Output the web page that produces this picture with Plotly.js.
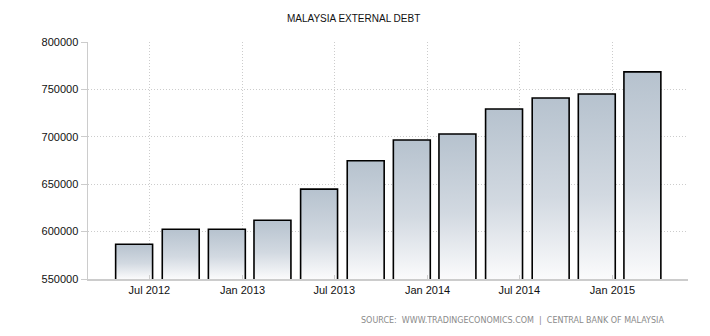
<!DOCTYPE html>
<html>
<head>
<meta charset="utf-8">
<script src="https://cdn.plot.ly/plotly-3.0.1.min.js"></script>
<style>
html,body{margin:0;padding:0;background:#fff;}
#chart{width:710px;height:336px;}
</style>
</head>
<body>
<div id="chart"></div>
<script>
const dates = ["2012-06-01","2012-09-01","2012-12-01","2013-03-01","2013-06-01","2013-09-01","2013-12-01","2014-03-01","2014-06-01","2014-09-01","2014-12-01","2015-03-01"];
const debt = [586700, 602500, 602400, 612000, 644800, 674700, 696600, 703000, 729400, 741000, 745200, 768500];
const tickVals = ["2012-07-01","2013-01-01","2013-07-01","2014-01-01","2014-07-01","2015-01-01"];
const tickText = ["Jul 2012","Jan 2013","Jul 2013","Jan 2014","Jul 2014","Jan 2015"];
const yTicks = [550000,600000,650000,700000,750000,800000];
const titleText = "MALAYSIA EXTERNAL DEBT";
const sourceText = "SOURCE:  WWW.TRADINGECONOMICS.COM  |  CENTRAL BANK OF MALAYSIA";

const font = "Liberation Sans, Arial, sans-serif";
const smallFont = "DejaVu Sans, Verdana, sans-serif";
const trace = {
  type: "bar",
  x: dates,
  y: debt,
  marker: {color: "#d0d8e0", line: {color: "#000", width: 1.6}},
  hoverinfo: "skip"
};
const layout = {
  width: 710, height: 336,
  margin: {l: 88, r: 22, t: 42, b: 57},
  paper_bgcolor: "#fff", plot_bgcolor: "#fff",
  bargap: 0.19,
  showlegend: false,
  title: {text: titleText, font: {family: font, size: 10, color: "#111"}, x: 0.498, xanchor: "center", y: 0.945, yanchor: "middle"},
  xaxis: {
    type: "date",
    range: ["2012-03-02", "2015-05-30"],
    tickmode: "array", tickvals: tickVals, ticktext: tickText,
    tickfont: {family: font, size: 11, color: "#111"},
    showgrid: true, gridcolor: "#cccccc", griddash: "1px,2px", gridwidth: 1,
    showline: true, linecolor: "#cccccc", linewidth: 1.5,
    ticks: "inside", ticklen: 4, tickcolor: "#cccccc",
    zeroline: false, fixedrange: true
  },
  yaxis: {
    range: [550000, 800000],
    tickmode: "array", tickvals: yTicks, ticktext: yTicks.map(String),
    tickfont: {family: font, size: 11, color: "#111"},
    showgrid: true, gridcolor: "#cccccc", griddash: "1px,2px", gridwidth: 1,
    showline: true, linecolor: "#cccccc", linewidth: 1.5,
    ticks: "outside", ticklen: 6, tickcolor: "#cccccc",
    zeroline: false, fixedrange: true
  },
  annotations: [{
    text: sourceText, xref: "paper", yref: "paper", x: 0.963, y: -0.175,
    xanchor: "right", yanchor: "middle", showarrow: false,
    font: {family: smallFont, size: 8, color: "#8a8a8a"}
  }]
};
Plotly.newPlot("chart", [trace], layout, {staticPlot: true}).then(function(gd){
  const svg = gd.querySelector("svg.main-svg");
  const ns = "http://www.w3.org/2000/svg";
  const defs = svg.querySelector("defs");
  const plotH = gd._fullLayout.yaxis._length;
  const ps = gd.querySelectorAll(".bars .point path");
  ps.forEach(function(p, i){
    const bb = p.getBBox();
    const g = document.createElementNS(ns, "linearGradient");
    g.setAttribute("id", "barGrad" + i);
    g.setAttribute("gradientUnits", "userSpaceOnUse");
    g.setAttribute("x1", "0"); g.setAttribute("x2", "0");
    g.setAttribute("y1", String(bb.y)); g.setAttribute("y2", String(plotH));
    [["0", "#b6c2ce"], ["0.55", "#d2d9e1"], ["1", "#fbfbfc"]].forEach(function(s){
      const st = document.createElementNS(ns, "stop");
      st.setAttribute("offset", s[0]); st.setAttribute("stop-color", s[1]);
      g.appendChild(st);
    });
    defs.appendChild(g);
    p.style.setProperty("fill", "url(#barGrad" + i + ")", "important");
  });
});
</script>
</body>
</html>
